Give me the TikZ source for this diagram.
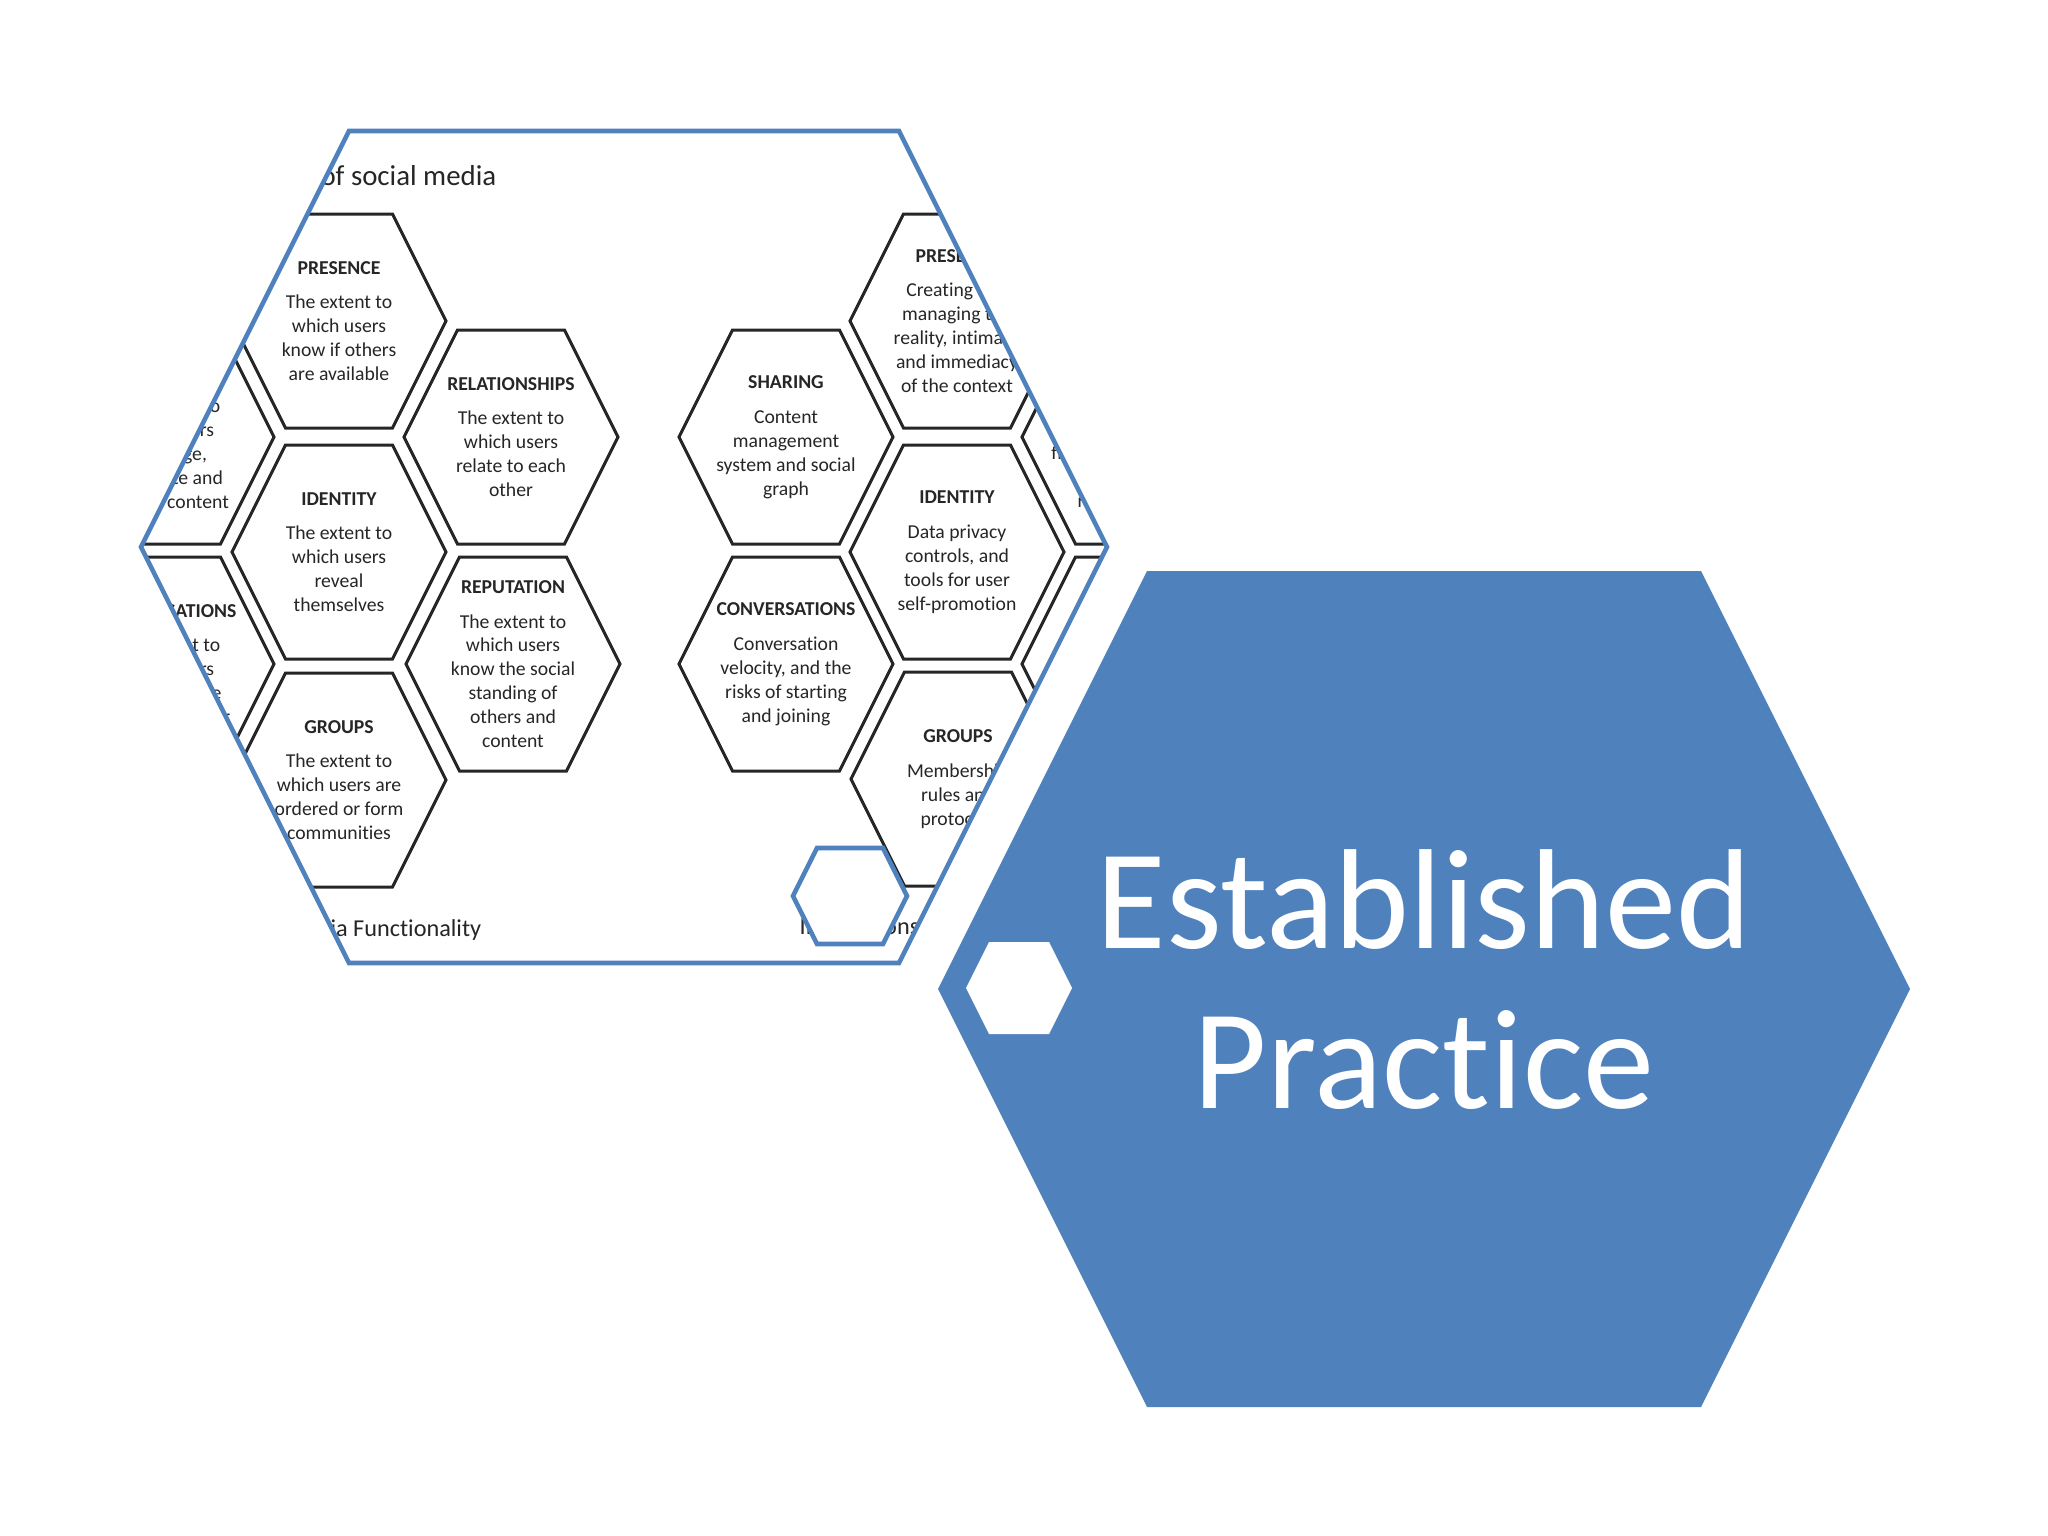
\documentclass[tikz,border=0pt]{standalone}
\usepackage{fontspec}
\setmainfont{Carlito}[Ligatures=NoCommon]
\usepackage{tikz}
\usetikzlibrary{calc}
\definecolor{hexblue}{HTML}{4F81BD}
\definecolor{inkgray}{HTML}{262626}
% flat-topped hexagon: centre x, centre y, half width, half height
\newcommand{\hexpath}[4]{(#1-#3,#2) -- (#1-#3+#4/2,#2-#4) -- (#1+#3-#4/2,#2-#4) -- (#1+#3,#2) -- (#1+#3-#4/2,#2+#4) -- (#1-#3+#4/2,#2+#4) -- cycle}
\newcommand{\cellhead}[1]{\textbf{#1}\\[3.1pt]}

\begin{document}
\begin{tikzpicture}[x=0.01cm,y=-0.01cm,
    cell/.style={draw=inkgray,line width=0.85pt},
    celltext/.style={align=center,text=inkgray,inner sep=0pt,font=\fontsize{5.6}{6.8}\selectfont},
    caption/.style={text=inkgray,inner sep=0pt,font=\fontsize{6.9}{8}\selectfont},
    blueline/.style={draw=hexblue,line width=1.3pt}]
    \useasboundingbox (0,0) rectangle (2048,1536);
    \fill[white] (0,0) rectangle (2048,1536);

    % picture of the two honeycombs, cut to the hexagon
    \begin{scope}
      \clip \hexpath{624}{547}{483}{416};
      \fill[white] \hexpath{624}{547}{483}{416};
      \foreach \cx/\cy in {167/437,167/664,339/321,339/552,339/780,511/437,513/664,
                           786/437,786/664,957/321,957/552,958/779,1129/437,1129/664}
        \draw[cell] \hexpath{\cx}{\cy}{107}{107};
      % functionality
      \node[celltext] (shareL) at (167,437) {\cellhead{SHARING}The extent to\\which users\\exchange,\\distribute and\\receive content};
      \node[celltext] (convL) at (167,664) {\cellhead{CONVERSATIONS}The extent to\\which users\\communicate\\with each other};
      \node[celltext] (presL) at (339,321) {\cellhead{PRESENCE}The extent to\\which users\\know if others\\are available};
      \node[celltext] (identL) at (339,552) {\cellhead{IDENTITY}The extent to\\which users\\reveal\\themselves};
      \node[celltext] (groupL) at (339,780) {\cellhead{GROUPS}The extent to\\which users are\\ordered or form\\communities};
      \node[celltext] (relL) at (511,437) {\cellhead{RELATIONSHIPS}The extent to\\which users\\relate to each\\other};
      \node[celltext] (repL) at (513,664) {\cellhead{REPUTATION}The extent to\\which users\\know the social\\standing of\\others and\\content};
      % implications
      \node[celltext] (shareR) at (786,437) {\cellhead{SHARING}Content\\management\\system and social\\graph};
      \node[celltext] (convR) at (786,664) {\cellhead{CONVERSATIONS}Conversation\\velocity, and the\\risks of starting\\and joining};
      \node[celltext] (presR) at (957,321) {\cellhead{PRESENCE}Creating and\\managing the\\reality, intimacy\\and immediacy\\of the context};
      \node[celltext] (identR) at (957,552) {\cellhead{IDENTITY}Data privacy\\controls, and\\tools for user\\self-promotion};
      \node[celltext] (groupR) at (958,779) {\cellhead{GROUPS}Membership\\rules and\\protocols};
      \node[celltext] (relR) at (1129,437) {\cellhead{RELATIONSHIPS}Managing the\\structural and\\flow properties in a\\network of\\relationships};
      % captions
      \node[caption,anchor=base east,font=\fontsize{8.2}{10}\selectfont] (title) at (497,185) {The honeycomb of social media};
      \node[caption,anchor=base east] (funcL) at (482,936) {Social Media Functionality};
      \node[caption,anchor=base west] (funcR) at (799,934) {Implications of the functionality};
    \end{scope}
    \draw[blueline] \hexpath{624}{547}{483}{416};
    \filldraw[blueline,fill=white] \hexpath{850}{896}{57}{48};

    % the big hexagon
    \fill[hexblue] \hexpath{1424}{989}{486}{418};
    \fill[white] \hexpath{1019}{988}{53}{46};
    \node[text=white,align=center,inner sep=0pt,font=\fontsize{40.5}{45.5}\selectfont] (practice) at (1424,980) {Established\\Practice};
\end{tikzpicture}
\end{document}
